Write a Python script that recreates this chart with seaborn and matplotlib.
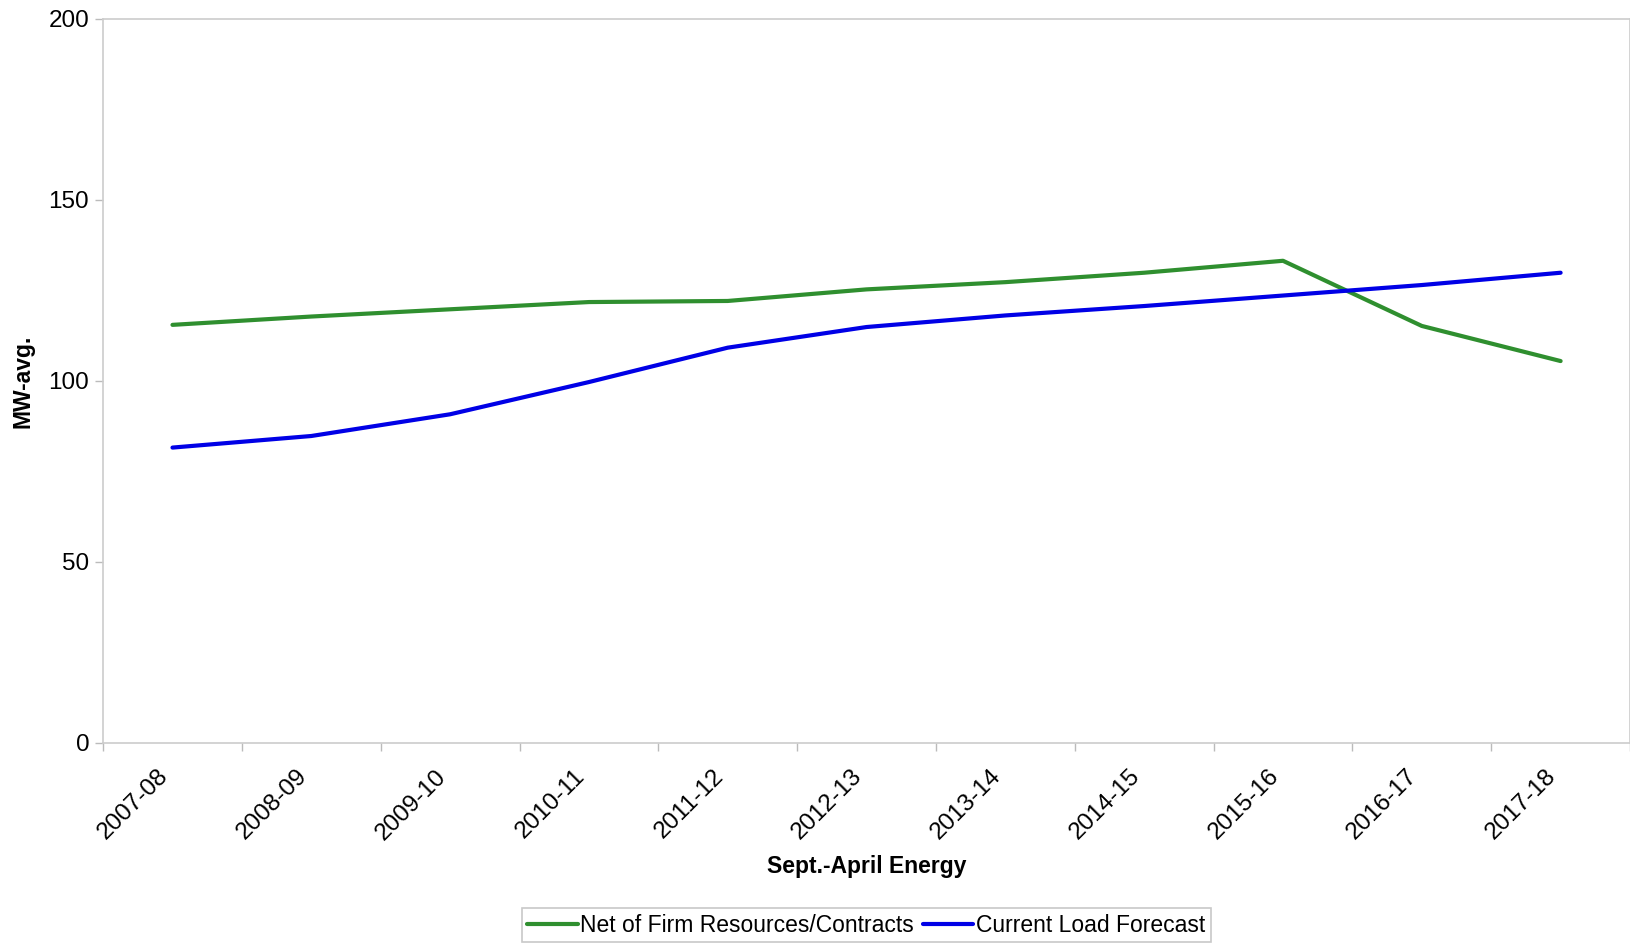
import numpy as np
import pandas as pd
import matplotlib
matplotlib.use('Agg')
import matplotlib.pyplot as plt
import seaborn as sns

sns.set_theme(style='white')
plt.rcParams['font.family'] = ['Liberation Sans', 'DejaVu Sans']
plt.rcParams['text.color'] = 'black'
plt.rcParams['axes.labelcolor'] = 'black'
plt.rcParams['xtick.labelcolor'] = 'black'
plt.rcParams['ytick.labelcolor'] = 'black'

TICK_SIZE = 17.5
LABEL_SIZE = 16.5

seasons = ['2007-08', '2008-09', '2009-10', '2010-11', '2011-12', '2012-13',
           '2013-14', '2014-15', '2015-16', '2016-17', '2017-18']
net_firm = [115.5, 117.8, 119.8, 121.8, 122.1, 125.3, 127.3, 129.9, 133.2, 115.2, 105.5]
load_forecast = [81.6, 84.8, 90.8, 99.7, 109.2, 114.9, 118.1, 120.7, 123.6, 126.5, 129.9]

series_names = ['Net of Firm Resources/Contracts', 'Current Load Forecast']
series_colors = ['#2f8f2f', '#0000e6']

df = pd.DataFrame({'Season': seasons * 2,
                   'MW': net_firm + load_forecast,
                   'Series': [series_names[0]] * len(seasons) + [series_names[1]] * len(seasons)})

fig = plt.figure(figsize=(16.31, 9.43), dpi=100)
ax = fig.add_axes([0.0632, 0.2121, 0.9362, 0.7678])

sns.lineplot(data=df, x='Season', y='MW', hue='Series', hue_order=series_names,
             palette=series_colors, linewidth=3, sort=False, ax=ax, legend=False)

ax.set_xlim(-0.5, len(seasons) - 0.5)
ax.set_ylim(0, 200)
ax.set_yticks([0, 50, 100, 150, 200])

# category labels centred, tick marks on the boundaries
ax.set_xticks(np.arange(len(seasons)))
ax.set_xticklabels(seasons, rotation=45, ha='right', fontsize=TICK_SIZE)
ax.set_xticks(np.arange(len(seasons) + 1) - 0.5, minor=True)
ax.tick_params(axis='x', which='major', length=0, pad=16)
ax.tick_params(axis='x', which='minor', length=6, width=1, color='#bbbbbb', bottom=True)
ax.tick_params(axis='y', length=6, width=1, color='#bbbbbb', left=True, labelsize=TICK_SIZE, pad=4)

for s in ax.spines.values():
    s.set_color('#cccccc')
    s.set_linewidth(1.2)

ax.set_xlabel('Sept.-April Energy', fontsize=LABEL_SIZE, fontweight='bold')
ax.xaxis.set_label_coords(0.5, -0.155)
ax.set_ylabel('MW-avg.', fontsize=LABEL_SIZE, fontweight='bold')
ax.yaxis.set_label_coords(-0.045, 0.5)

handles = [plt.Line2D([], [], color=c, lw=3) for c in series_colors]
leg = fig.legend(handles, series_names, loc='center', bbox_to_anchor=(0.531, 0.019), ncol=2,
                 fontsize=LABEL_SIZE, frameon=True, fancybox=False, edgecolor='#bbbbbb',
                 handlelength=2.2, handletextpad=0.1, columnspacing=0.4,
                 borderpad=0.25, borderaxespad=0)
leg.get_frame().set_linewidth(1.2)

fig.savefig('out.png', dpi=100)
